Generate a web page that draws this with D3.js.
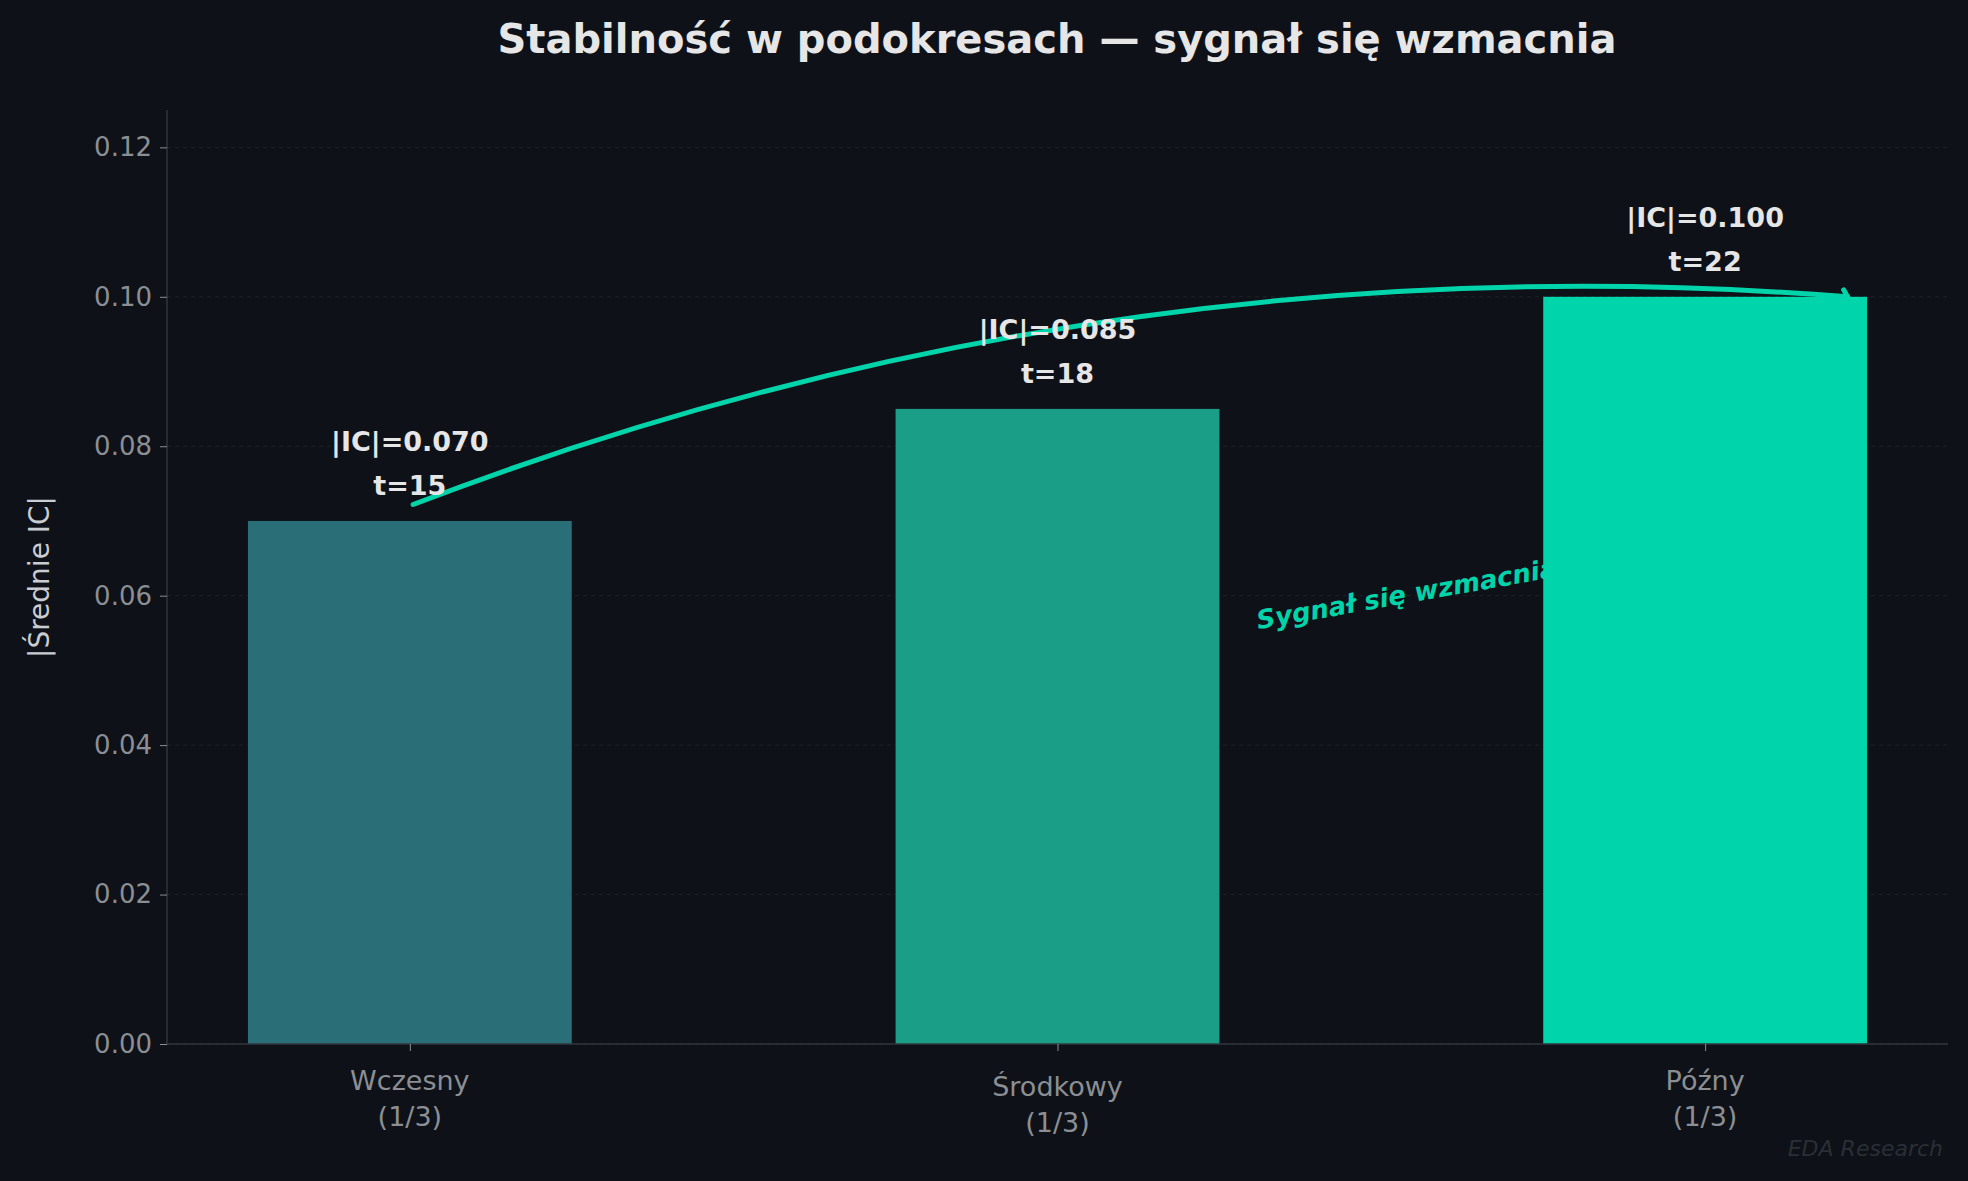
<!DOCTYPE html>
<html>
<head>
<meta charset="utf-8">
<script src="https://cdn.jsdelivr.net/npm/d3@7"></script>
<style>
  body { margin: 0; background: #0e1117; }
  text { font-family: "DejaVu Sans", sans-serif; }
</style>
</head>
<body>
<svg id="chart" width="1968" height="1181"></svg>
<script>
// data
const categories = ["Wczesny\n(1/3)", "Środkowy\n(1/3)", "Późny\n(1/3)"];
const icValues = [0.070, 0.085, 0.100];
const tStats = [15, 18, 22];
const barColors = ["#2a6e78", "#1a9e88", "#00d4aa"];
const yTicks = [0, 0.02, 0.04, 0.06, 0.08, 0.10, 0.12];

const svg = d3.select("#chart"),
    width = 1968, height = 1181;
const m = {left: 167, right: 20, top: 110, bottom: 137};

svg.append("rect").attr("width", width).attr("height", height).attr("fill", "#0e1117");

const x = d3.scaleLinear().domain([-0.375, 2.375]).range([m.left, width - m.right]);
const y = d3.scaleLinear().domain([0, 0.125]).range([height - m.bottom, m.top]);
const barW = x(0.5) - x(0);

// grid
svg.append("g").selectAll("line").data(yTicks).join("line")
    .attr("x1", m.left).attr("x2", width - m.right)
    .attr("y1", d => y(d)).attr("y2", d => y(d))
    .attr("stroke", "#1e232a").attr("stroke-dasharray", "4,4").attr("stroke-width", 1);

// annotation (drawn beneath the bars)
const start = [x(0.005), y(0.0722)], end = [x(2.22), y(0.1)];
const rad = 0.113;
const mid = [(start[0] + end[0]) / 2, (start[1] + end[1]) / 2];
const dx = end[0] - start[0], dy = end[1] - start[1];
const ctrl = [mid[0] + rad * dy, mid[1] - rad * dx];
svg.append("path")
    .attr("d", `M${start}Q${ctrl} ${end}`)
    .attr("fill", "none").attr("stroke", "#00d4aa").attr("stroke-width", 5)
    .attr("stroke-linecap", "round");
svg.append("path")
    .attr("d", `M${end[0] - 4},${end[1] - 7}L${end[0]},${end[1]}L${end[0] - 12},${end[1] + 2}`)
    .attr("fill", "none").attr("stroke", "#00d4aa").attr("stroke-width", 5)
    .attr("stroke-linecap", "round");

svg.append("text")
    .attr("transform", `translate(${x(1.31)},${y(0.0555)}) rotate(-10)`)
    .attr("fill", "#00d4aa").attr("font-size", 26).attr("font-weight", "bold")
    .attr("font-style", "italic")
    .text("Sygnał się wzmacnia");

// bars
svg.append("g").selectAll("rect").data(icValues).join("rect")
    .attr("x", (d, i) => x(i) - barW / 2)
    .attr("width", barW)
    .attr("y", d => y(d))
    .attr("height", d => y(0) - y(d))
    .attr("fill", (d, i) => barColors[i]);

// value labels
const lab = svg.append("g").selectAll("text").data(icValues).join("text")
    .attr("text-anchor", "middle").attr("fill", "#e6e6e6")
    .attr("font-size", 27).attr("font-weight", "bold");
lab.append("tspan").attr("x", (d, i) => x(i)).attr("y", d => y(d) - 70)
    .text(d => "|IC|=" + d.toFixed(3));
lab.append("tspan").attr("x", (d, i) => x(i)).attr("y", d => y(d) - 26)
    .text((d, i) => "t=" + tStats[i]);

// axes
const yAxis = svg.append("g").attr("transform", `translate(${m.left},0)`)
    .call(d3.axisLeft(y).tickValues(yTicks).tickFormat(d3.format(".2f")).tickSize(7).tickPadding(8));
const xAxis = svg.append("g").attr("transform", `translate(0,${y(0)})`)
    .call(d3.axisBottom(x).tickValues([0, 1, 2]).tickFormat("").tickSize(7));
[yAxis, xAxis].forEach(a => {
  a.select(".domain").attr("stroke", "#30363d").attr("stroke-width", 1.5);
  a.selectAll(".tick line").attr("stroke", "#8b8f94");
  a.selectAll(".tick text").attr("fill", "#8b8f94").attr("font-size", 26)
    .attr("font-family", "DejaVu Sans");
});
xAxis.select(".domain").attr("d", `M${m.left},0H${width - m.right}`);
yAxis.select(".domain").attr("d", `M0,${m.top}V${y(0)}`);

svg.append("g").selectAll("text").data(categories).join("text")
    .attr("text-anchor", "middle").attr("fill", "#8b8f94").attr("font-size", 27)
    .each(function(d, i) {
      const lines = d.split("\n");
      d3.select(this).selectAll("tspan").data(lines).join("tspan")
        .attr("x", x(i)).attr("y", (l, j) => y(0) + 46 + j * 36 + (i === 1 ? 6 : 0))
        .text(l => l);
    });

// labels
svg.append("text")
    .attr("transform", `translate(41,${(m.top + y(0)) / 2}) rotate(-90)`)
    .attr("text-anchor", "middle").attr("dominant-baseline", "middle")
    .attr("fill", "#c9ccd0").attr("font-size", 28)
    .text("|Średnie IC|");

svg.append("text")
    .attr("x", 1057).attr("y", 53).attr("text-anchor", "middle")
    .attr("fill", "#e6e6e6").attr("font-size", 40).attr("font-weight", "bold")
    .text("Stabilność w podokresach — sygnał się wzmacnia");

svg.append("text")
    .attr("x", 1943).attr("y", 1156).attr("text-anchor", "end")
    .attr("fill", "#2a2f36").attr("font-size", 22).attr("font-style", "italic")
    .text("EDA Research");
</script>
</body>
</html>
